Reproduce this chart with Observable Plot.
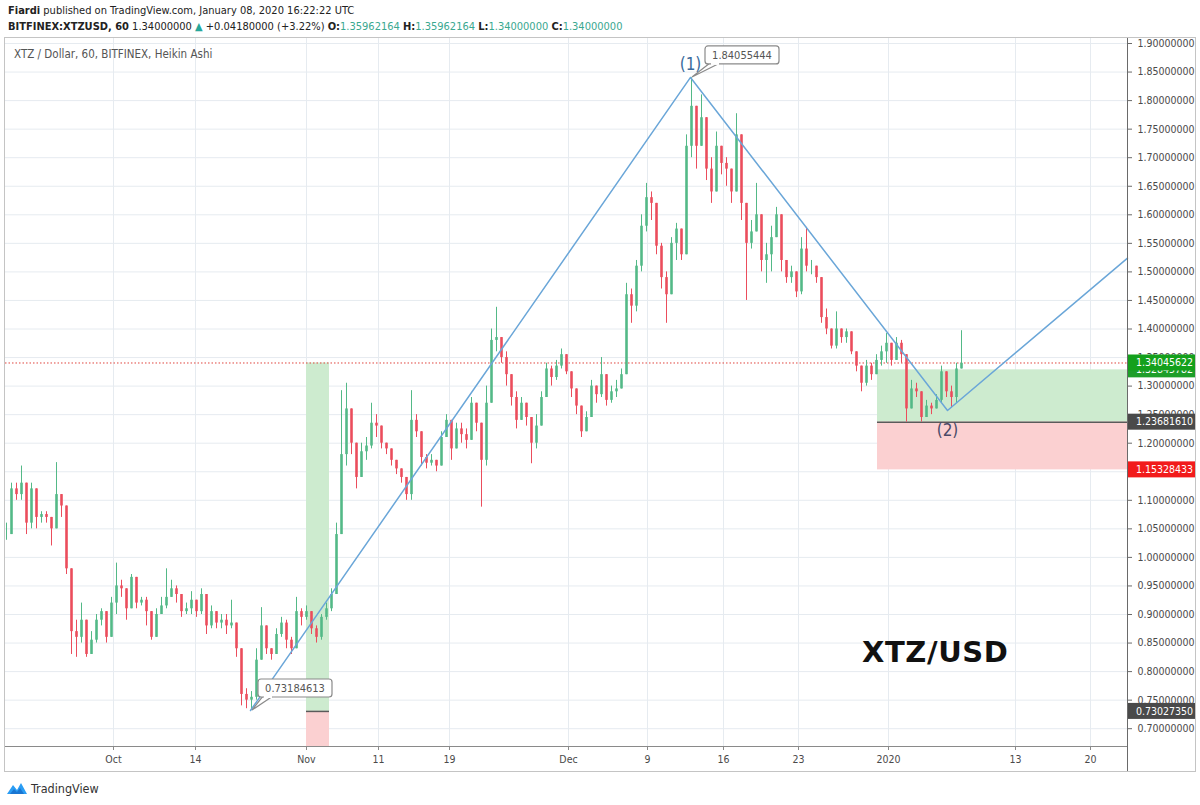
<!DOCTYPE html>
<html><head><meta charset="utf-8">
<script src="https://cdn.jsdelivr.net/npm/d3@7"></script>
<script src="https://cdn.jsdelivr.net/npm/@observablehq/plot@0.6"></script>
<style>
html,body{margin:0;padding:0;background:#fff;}
body{width:1200px;height:805px;position:relative;overflow:hidden;font-family:"Liberation Sans Narrow","DejaVu Sans Condensed",Roboto,sans-serif;color:#222;}
#h1{position:absolute;left:8px;top:4px;font-size:11px;white-space:nowrap;}
#h2{position:absolute;left:8px;top:20px;font-size:11px;white-space:nowrap;}
#h2 .v{color:#3aa890;} #h2 b, #h1 b{font-weight:bold;}
#chart{position:absolute;left:4px;top:37px;width:1190px;height:733px;border:1px solid #c4c4c4;}
#sep{position:absolute;left:1127px;top:38px;width:1px;height:733px;background:#6a6a6a;}
#ttl{position:absolute;left:14px;top:47px;font-size:11.5px;color:#555;white-space:nowrap;}
#big{position:absolute;left:862px;top:635px;font-family:"DejaVu Sans","Liberation Sans",sans-serif;font-weight:bold;font-size:29px;color:#111;letter-spacing:0.6px;}
#logo{position:absolute;left:6px;top:780px;display:flex;align-items:center;font-size:12.5px;color:#333;}
</style></head><body>
<div id="h1"><b>Fiardi</b> published on TradingView.com, January 08, 2020 16:22:22 UTC</div>
<div id="h2"><b>BITFINEX:XTZUSD, 60</b> 1.34000000 <span style="color:#26a69a">▲</span> +0.04180000 (+3.22%) <b>O:</b><span class="v">1.35962164</span> <b>H:</b><span class="v">1.35962164</span> <b>L:</b><span class="v">1.34000000</span> <b>C:</b><span class="v">1.34000000</span></div>
<div id="chart"></div>
<div id="sep"></div>
<div id="ttl">XTZ / Dollar, 60, BITFINEX, Heikin Ashi</div>
<div id="big">XTZ/USD</div>
<div id="logo"><svg width="22" height="16" viewBox="0 0 22 16"><path d="M1 14 L7 5 L11 10 L15 3 L21 14 Z" fill="#2a9df4"/><path d="M4 14 L8 9 L11 12 L14 8 L18 14 Z" fill="#1976d2"/></svg><span style="margin-left:3px">TradingView</span></div>
<script>
// Heikin Ashi candles (one per ~half day)
const closes = [1.04,1.12,1.11,1.13,1.06,1.12,1.07,1.075,1.07,1.05,
 1.11,1.09,0.98,0.87,0.86,0.89,0.83,0.855,0.89,0.905,
 0.86,0.92,0.95,0.945,0.91,0.965,0.92,0.925,0.905,0.86,
 0.90,0.915,0.93,0.945,0.935,0.905,0.91,0.925,0.905,0.935,
 0.88,0.905,0.885,0.89,0.88,0.885,0.84,0.76,0.75,0.755,
 0.82,0.88,0.84,0.83,0.865,0.885,0.855,0.84,0.905,0.895,
 0.905,0.875,0.86,0.895,0.91,0.935,1.04,1.18,1.26,1.20,
 1.14,1.185,1.195,1.235,1.23,1.20,1.19,1.17,1.155,1.14,
 1.11,1.24,1.22,1.175,1.165,1.17,1.16,1.21,1.24,1.19,
 1.225,1.215,1.205,1.27,1.235,1.17,1.27,1.38,1.385,1.35,
 1.32,1.28,1.24,1.27,1.245,1.20,1.23,1.28,1.33,1.315,
 1.335,1.355,1.325,1.295,1.265,1.22,1.245,1.30,1.285,1.32,
 1.275,1.29,1.295,1.32,1.46,1.44,1.51,1.58,1.63,1.62,
 1.545,1.49,1.46,1.55,1.575,1.53,1.72,1.79,1.72,1.77,
 1.68,1.64,1.72,1.69,1.68,1.64,1.74,1.62,1.55,1.57,
 1.60,1.52,1.53,1.56,1.60,1.52,1.49,1.50,1.465,1.54,
 1.51,1.51,1.49,1.42,1.40,1.37,1.40,1.385,1.395,1.36,
 1.335,1.305,1.335,1.32,1.345,1.36,1.375,1.345,1.375,1.355,
 1.26,1.295,1.29,1.245,1.265,1.26,1.275,1.325,1.29,1.28,
 1.33,1.34];
const highs = [1.06,1.13,1.13,1.16,1.12,1.13,1.11,1.08,1.08,1.07,
 1.166,1.11,1.09,0.98,0.89,0.92,0.89,0.87,0.90,0.91,
 0.90,0.93,0.99,0.96,0.94,0.97,0.95,0.93,0.93,0.89,
 0.91,0.93,0.98,0.96,0.95,0.93,0.92,0.94,0.925,0.945,
 0.92,0.915,0.905,0.90,0.90,0.925,0.88,0.80,0.77,0.765,
 0.84,0.912,0.86,0.84,0.875,0.895,0.89,0.86,0.93,0.91,
 0.915,0.90,0.88,0.90,0.92,0.945,1.06,1.292,1.305,1.24,
 1.19,1.20,1.21,1.27,1.25,1.225,1.20,1.19,1.17,1.155,
 1.14,1.292,1.25,1.21,1.18,1.18,1.17,1.22,1.25,1.225,
 1.235,1.235,1.225,1.28,1.25,1.23,1.30,1.40,1.438,1.38,
 1.36,1.32,1.29,1.28,1.26,1.23,1.25,1.29,1.34,1.335,
 1.345,1.365,1.345,1.32,1.29,1.26,1.255,1.31,1.30,1.35,
 1.30,1.30,1.31,1.33,1.48,1.47,1.52,1.60,1.655,1.64,
 1.60,1.55,1.50,1.56,1.585,1.56,1.74,1.84,1.79,1.81,
 1.74,1.70,1.745,1.71,1.70,1.66,1.777,1.72,1.60,1.59,
 1.655,1.57,1.55,1.58,1.613,1.57,1.52,1.51,1.49,1.56,
 1.578,1.52,1.51,1.48,1.435,1.40,1.43,1.40,1.40,1.385,
 1.36,1.33,1.345,1.34,1.355,1.37,1.392,1.365,1.385,1.38,
 1.34,1.31,1.305,1.285,1.275,1.27,1.285,1.335,1.32,1.30,
 1.34,1.397];
const lows = [1.03,1.04,1.10,1.10,1.04,1.05,1.05,1.06,1.06,1.02,
 1.05,1.07,0.97,0.83,0.825,0.85,0.825,0.83,0.85,0.88,
 0.85,0.86,0.90,0.93,0.89,0.91,0.91,0.915,0.88,0.855,
 0.86,0.905,0.91,0.93,0.92,0.895,0.90,0.90,0.895,0.90,
 0.865,0.875,0.875,0.875,0.865,0.875,0.825,0.74,0.735,0.732,
 0.75,0.82,0.83,0.82,0.83,0.86,0.84,0.83,0.85,0.88,
 0.89,0.865,0.85,0.855,0.89,0.905,0.94,1.10,1.16,1.18,
 1.12,1.15,1.17,1.19,1.21,1.19,1.18,1.16,1.145,1.13,
 1.10,1.10,1.21,1.16,1.155,1.16,1.15,1.16,1.21,1.17,
 1.19,1.20,1.19,1.21,1.22,1.088,1.16,1.28,1.36,1.34,
 1.30,1.265,1.225,1.24,1.23,1.164,1.19,1.23,1.28,1.30,
 1.31,1.33,1.32,1.28,1.25,1.21,1.23,1.25,1.27,1.28,
 1.265,1.27,1.28,1.295,1.33,1.41,1.43,1.50,1.57,1.59,
 1.53,1.47,1.41,1.46,1.52,1.52,1.60,1.70,1.68,1.74,
 1.66,1.62,1.66,1.67,1.65,1.62,1.64,1.59,1.45,1.54,
 1.57,1.50,1.48,1.50,1.57,1.50,1.48,1.48,1.455,1.46,
 1.50,1.495,1.48,1.41,1.39,1.365,1.365,1.375,1.375,1.355,
 1.325,1.29,1.30,1.31,1.32,1.335,1.34,1.335,1.35,1.34,
 1.237,1.26,1.28,1.237,1.25,1.25,1.26,1.27,1.28,1.262,
 1.27,1.33];

// time axis: candle-index positions of the date labels
const tickPos = [21.4, 37.8, 60, 74.4, 88.6, 112.4, 128.2, 143.4, 158.4, 176.4, 201.8, 216.8];
const tickLabels = ["Oct","14","Nov","11","19","Dec","9","16","23","2020","13","20"];
const yTicks = [0.70,0.75,0.80,0.85,0.90,0.95,1.00,1.05,1.10,1.15,1.20,1.25,1.30,1.35,1.40,1.45,1.50,1.55,1.60,1.65,1.70,1.75,1.80,1.85,1.90];

// wave drawing: low, (1), (2), projection
const waveX = [48.8, 136.8, 188.2, 224.2];
const waveY = [0.73184613, 1.84055444, 1.2573, 1.524];

// long positions
const posStart = [60, 174.2];
const posEnd = [64.6, 224.2];
const posTarget = [1.34045622, 1.32845782];
const posStop = [0.73027350, 1.23681610];
const posRisk = [0.6688, 1.15328433];

const lastPrice = 1.34045622;
const tagPrices = [1.32845782, 1.34045622, 1.23681610, 1.15328433, 0.73027350];
const tagColors = ["#1e9e2a", "#14a01c", "#4a4a4a", "#f21b1b", "#4a4a4a"];

const yMax = 1.90 + 5/571, yMin = yMax - 708/571;
const candles = closes.map((c, i) => ({i, o: i ? closes[i-1] : c, c, h: highs[i], l: lows[i]}));
const wave = waveX.map((x, k) => ({x, y: waveY[k]}));
const positions = posStart.map((s, k) => ({s, e: posEnd[k], t: posTarget[k], st: posStop[k], r: posRisk[k]}));
const tickMap = new Map(tickPos.map((p, k) => [p, tickLabels[k]]));
const up = "#53b987", down = "#eb4d5c";
const col = d => d.c >= d.o ? up : down;

function callouts(index, scales) {
  const g = d3.create("svg:g").attr("font-size", 11).attr("fill", "#555");
  [[1, 15], [0, 8]].forEach(([k, dx]) => {
    const px = scales.x(waveX[k]), py = scales.y(waveY[k]);
    const bx = px + dx, by = py - 31, w = 74, h = 18;
    g.append("path").attr("d", `M${bx+5},${by+h-1} L${px+2},${py} L${bx+15},${by+h-1}`)
      .attr("fill", "#fff").attr("stroke", "#8a8a8a").attr("stroke-width", 1.2);
    g.append("rect").attr("x", bx).attr("y", by).attr("width", w).attr("height", h).attr("rx", 3)
      .attr("fill", "#fff").attr("stroke", "#8a8a8a").attr("stroke-width", 1.2);
    g.append("path").attr("d", `M${bx+6},${by+h} L${bx+14},${by+h}`).attr("stroke", "#fff").attr("stroke-width", 2);
    g.append("text").attr("x", bx + w/2).attr("y", by + h/2).attr("dy", "0.35em").attr("text-anchor", "middle")
      .text(waveY[k].toFixed(8));
  });
  return g.node();
}

function priceTags(index, scales, values, dim) {
  const g = d3.create("svg:g").attr("font-size", 10.5).attr("text-anchor", "start");
  const x0 = dim.width - dim.marginRight;
  tagPrices.forEach((p, k) => {
    const y = scales.y(p);
    g.append("rect").attr("x", x0).attr("y", y - 8).attr("width", dim.marginRight).attr("height", 16).attr("fill", tagColors[k]);
    g.append("text").attr("x", x0 + 9).attr("y", y).attr("dy", "0.35em").attr("text-anchor", "start").attr("fill", "#fff").text(p.toFixed(8));
  });
  return g.node();
}

const chart = Plot.plot({
  width: 1190, height: 733,
  marginLeft: 0, marginRight: 68, marginTop: 0, marginBottom: 25,
  style: {fontFamily: '"Liberation Sans Narrow","DejaVu Sans Condensed",Roboto,sans-serif', fontSize: "10.5px", color: "#4a4a4a", background: "#fff", overflow: "visible"},
  x: {type: "linear", domain: [-0.2, 224.2]},
  y: {domain: [yMin, yMax]},
  marks: [
    Plot.gridY(yTicks, {stroke: "#e6ebf0", strokeOpacity: 1}),
    Plot.gridX(tickPos, {stroke: "#e6ebf0", strokeOpacity: 1}),
    Plot.rect(positions, {x1: "s", x2: "e", y1: "st", y2: "t", fill: "#cdebcf"}),
    Plot.rect(positions, {x1: "s", x2: "e", y1: "r", y2: "st", fill: "#fbd0d1"}),
    Plot.ruleY(positions, {y: "st", x1: "s", x2: "e", stroke: "#5a5a5a", strokeWidth: 1.5}),
    Plot.ruleY([lastPrice], {stroke: "#e0443e", strokeDasharray: "1.5,2", strokeWidth: 1}),
    Plot.ruleX(candles, {x: "i", y1: d => Math.min(d.l, d.o, d.c), y2: d => Math.max(d.h, d.o, d.c), stroke: col, strokeWidth: 1}),
    Plot.ruleX(candles, {x: "i", y1: "o", y2: "c", stroke: col, strokeWidth: 2.6}),
    Plot.line(wave, {x: "x", y: "y", stroke: "#6aa6d8", strokeWidth: 1.5}),
    Plot.text([wave[1]], {x: "x", y: "y", text: () => "(1)", dy: -13, fontSize: 17, fill: "#3a6a9c"}),
    Plot.text([wave[2]], {x: "x", y: "y", text: () => "(2)", dy: 20, fontSize: 17, fill: "#4a4a68"}),
    callouts,
    Plot.ruleY([yMin], {stroke: "#8a8a8a"}),
    Plot.axisY(yTicks, {anchor: "right", tickFormat: d => d.toFixed(8), tickSize: 4, tickPadding: 6, stroke: "#6a6a6a"}),
    Plot.axisX(tickPos, {anchor: "bottom", tickFormat: d => tickMap.get(d), tickSize: 4, tickPadding: 5, stroke: "#8a8a8a"}),
    priceTags
  ]
});
document.getElementById("chart").appendChild(chart);
</script>
</body></html>
